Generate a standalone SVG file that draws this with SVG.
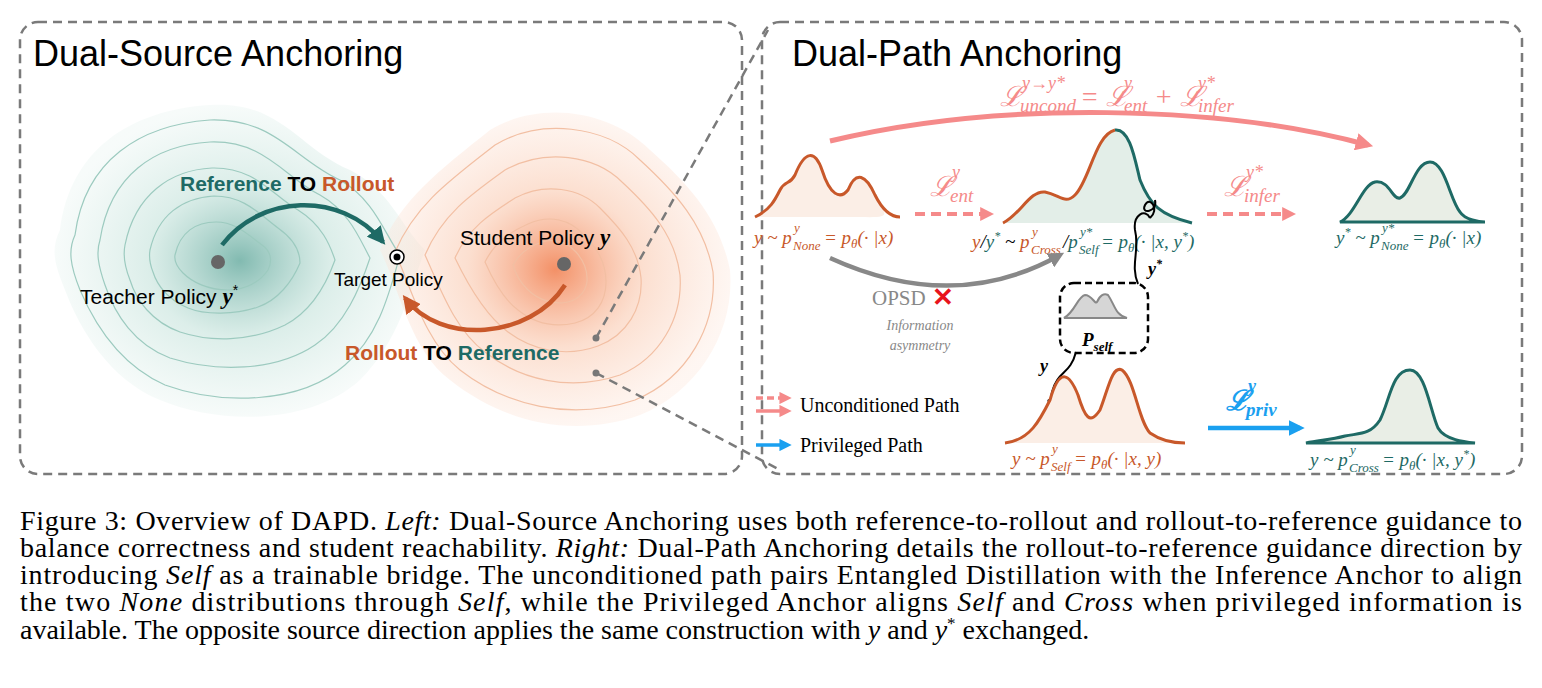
<svg xmlns="http://www.w3.org/2000/svg" width="1542" height="688" viewBox="0 0 1542 688">
<defs>
<style>
.box{fill:none;stroke:#7a7a7a;stroke-width:2.5;stroke-dasharray:9 6}
.t{font-family:"Liberation Sans",Arial,sans-serif}
.s{font-family:"Liberation Serif","Times New Roman",serif}
.m{font-family:"Liberation Serif",serif;font-style:italic}
.cap{font-family:"Liberation Serif","Times New Roman",serif;font-size:28px;fill:#000}
.tc{fill:none;stroke:#9ccabf;stroke-width:1.2}
.oc{fill:none;stroke:#f2bfa3;stroke-width:1.2}
.org{fill:#c8582a}.grn{fill:#1e6a65}.pink{fill:#f58a8a}
</style>
<radialGradient id="tg" cx="0.5" cy="0.5" r="0.5"><stop offset="0" stop-color="#2e8c7c" stop-opacity="0.6"/><stop offset="0.5" stop-color="#9ccfc2" stop-opacity="0.35"/><stop offset="1" stop-color="#e4f2ee" stop-opacity="0.3"/></radialGradient>
<radialGradient id="og" cx="0.5" cy="0.5" r="0.5"><stop offset="0" stop-color="#f07440" stop-opacity="0.8"/><stop offset="0.5" stop-color="#f8b896" stop-opacity="0.45"/><stop offset="1" stop-color="#fde6da" stop-opacity="0.35"/></radialGradient>
<marker id="ahT" viewBox="0 0 10 10" refX="8" refY="5" markerWidth="4" markerHeight="4" orient="auto"><path d="M0,0L10,5L0,10z" fill="#1e6a65"/></marker>
<marker id="ahO" viewBox="0 0 10 10" refX="8" refY="5" markerWidth="4" markerHeight="4" orient="auto"><path d="M0,0L10,5L0,10z" fill="#c8582a"/></marker>
<marker id="ahP" viewBox="0 0 10 10" refX="7" refY="5" markerWidth="3.5" markerHeight="3.5" orient="auto"><path d="M0,0L10,5L0,10z" fill="#f58a8a"/></marker>
<marker id="ahB" viewBox="0 0 10 10" refX="7" refY="5" markerWidth="3.5" markerHeight="3.5" orient="auto"><path d="M0,0L10,5L0,10z" fill="#1aa0f0"/></marker>
<marker id="ahG" viewBox="0 0 10 10" refX="7" refY="5" markerWidth="3.5" markerHeight="3.5" orient="auto"><path d="M0,0L10,5L0,10z" fill="#888"/></marker>
</defs>
<rect width="1542" height="688" fill="#fff"/>

<g id="left-panel">
<rect class="box" x="20" y="22" width="722" height="452" rx="18"/>
<text class="t" x="33" y="66" font-size="36">Dual-Source Anchoring</text>
<path d="M60,230 C70,150 130,110 210,105 C280,100 300,150 350,170 C390,190 400,225 425,250 C410,290 400,340 360,380 C310,425 220,425 160,400 C110,380 80,330 65,290 C55,265 50,250 60,230Z" fill="url(#tg)"/>
<path d="M380,250 C400,200 440,170 490,130 C540,100 610,110 650,150 C690,185 720,220 730,270 C735,330 700,390 640,415 C570,440 500,420 450,380 C410,350 400,290 380,250Z" fill="url(#og)"/>
<g class="tc">
<path d="M75,235 C85,160 140,125 210,120 C275,118 295,160 340,180 C375,200 385,235 400,255 C390,290 380,335 345,365 C300,405 220,405 165,385 C120,365 95,325 80,290 C70,265 68,250 75,235Z"/>
<path d="M100,240 C110,175 155,145 210,142 C265,140 285,178 320,195 C350,212 360,240 370,258 C360,288 345,325 315,345 C275,372 215,372 170,358 C135,345 115,315 105,285 C98,265 96,252 100,240Z"/>
<path d="M125,245 C135,195 170,170 212,168 C255,167 272,195 298,210 C322,225 330,245 335,260 C326,285 310,312 285,325 C250,342 210,342 180,332 C152,322 136,300 130,280 C124,265 123,255 125,245Z"/>
<path d="M150,250 C158,215 182,198 214,196 C245,196 260,215 278,228 C295,240 300,252 300,263 C292,282 278,300 258,307 C235,315 205,315 188,308 C168,300 157,285 153,272 C149,262 149,256 150,250Z"/>
<path d="M175,255 C180,232 196,222 216,222 C236,222 248,235 262,245 C272,252 272,262 268,270 C260,282 245,290 228,290 C208,290 192,282 183,273 C177,267 174,261 175,255Z"/>
</g>
<g class="oc">
<path d="M395,252 C415,205 450,180 495,145 C540,118 605,125 640,160 C675,192 705,225 713,272 C717,325 688,378 635,400 C570,422 505,405 460,370 C425,342 412,290 395,252Z"/>
<path d="M425,255 C442,215 470,195 505,170 C545,148 595,155 622,182 C650,208 675,235 680,275 C683,318 660,358 620,375 C570,392 520,380 485,352 C455,330 440,288 425,255Z"/>
<path d="M455,258 C468,228 490,214 515,198 C545,182 580,188 600,208 C620,228 638,248 641,278 C643,308 627,335 598,346 C565,358 532,350 508,332 C485,315 468,285 455,258Z"/>
<path d="M485,262 C495,242 510,232 528,224 C550,214 570,220 583,234 C597,248 606,262 606,282 C606,302 595,318 575,323 C553,328 533,322 518,310 C502,298 492,278 485,262Z"/>
<path d="M513,265 C520,252 530,246 542,242 C556,238 568,243 576,252 C584,261 588,270 587,282 C585,294 576,302 562,303 C548,303 536,298 527,289 C519,281 515,272 513,265Z"/>
</g>
<circle cx="218" cy="262" r="7" fill="#666"/>
<circle cx="564" cy="264" r="7" fill="#666"/>
<circle cx="397" cy="257" r="7" fill="#fff" stroke="#000" stroke-width="1.5"/>
<circle cx="397" cy="257" r="3.5" fill="#000"/>
<path d="M222,245 C260,195 340,190 383,242" fill="none" stroke="#1e6a65" stroke-width="4.5" marker-end="url(#ahT)"/>
<path d="M565,285 C530,340 440,345 405,298" fill="none" stroke="#c8582a" stroke-width="4.5" marker-end="url(#ahO)"/>
<text class="t" x="180" y="191" font-size="21" font-weight="bold"><tspan class="grn">Reference</tspan> <tspan>TO</tspan> <tspan class="org">Rollout</tspan></text>
<text class="t" x="345" y="360" font-size="21" font-weight="bold"><tspan class="org">Rollout</tspan> <tspan>TO</tspan> <tspan class="grn">Reference</tspan></text>
<text class="t" x="80" y="304" font-size="21">Teacher Policy <tspan class="m" font-weight="bold" font-size="23">y</tspan><tspan font-size="14" dy="-9">*</tspan></text>
<text class="t" x="334" y="286" font-size="19">Target Policy</text>
<text class="t" x="460" y="245" font-size="21">Student Policy <tspan class="m" font-weight="bold" font-size="23">y</tspan></text>
<circle cx="596" cy="338" r="3.5" fill="#777"/>
<circle cx="596" cy="373" r="3.5" fill="#777"/>
</g>

<g id="zoom-lines">
<line class="box" x1="596" y1="338" x2="768" y2="30"/>
<line class="box" x1="596" y1="373" x2="780" y2="470"/>
</g>

<g id="right-panel">
<rect class="box" x="762" y="22" width="760" height="452" rx="18"/>
<text class="t" x="792" y="66" font-size="36">Dual-Path Anchoring</text>

<g class="m pink" font-size="28">
<text x="1000" y="106">ℒ</text>
<text x="1020" y="112" font-size="19">uncond</text>
<text x="1022" y="89" font-size="18">y→y*</text>
<text x="1080" y="106">= ℒ</text>
<text x="1124" y="112" font-size="19">ent</text>
<text x="1124" y="89" font-size="18">y</text>
<text x="1154" y="106">+ ℒ</text>
<text x="1198" y="112" font-size="19">infer</text>
<text x="1198" y="89" font-size="18">y*</text>
</g>
<path d="M830,141 C1000,100 1220,105 1368,145" fill="none" stroke="#f58a8a" stroke-width="5" marker-end="url(#ahP)"/>

<g id="dist-none-y">
<path d="M755,217 C770,210 775,200 780,190 C785,180 790,185 795,175 C805,150 815,150 822,170 C830,195 840,200 848,190 C856,170 866,175 875,195 C885,215 895,218 860,217Z" fill="#fbeee6" stroke="none"/>
<path d="M755,217 C770,210 775,200 780,190 C785,180 790,185 795,175 C805,150 815,150 822,170 C830,195 840,200 848,190 C856,170 866,175 875,195 C885,215 895,217 900,217" fill="none" stroke="#c8582a" stroke-width="3"/>
<g class="m org" font-size="19">
<text x="754" y="244">y ~ p</text>
<text x="793" y="250" font-size="13">None</text>
<text x="794" y="232" font-size="13">y</text>
<text x="824" y="244">= p<tspan font-size="13" dy="4">θ</tspan><tspan dy="-4">(· |x)</tspan></text>
</g>
</g>
<path d="M915,214 L990,214" stroke="#f58a8a" stroke-width="4" stroke-dasharray="10 6" marker-end="url(#ahP)"/>
<g class="m pink" font-size="28">
<text x="930" y="196">ℒ</text>
<text x="950" y="202" font-size="19">ent</text>
<text x="952" y="178" font-size="18">y</text>
</g>

<g id="dist-mid">
<path d="M1003,223 C1020,215 1030,190 1045,192 C1060,195 1065,205 1075,195 C1090,180 1095,135 1115,130 C1130,128 1135,160 1140,180 C1150,205 1160,215 1192,223Z" fill="#e3eee8"/>
<path d="M1003,223 C1020,215 1030,190 1045,192 C1060,195 1065,205 1075,195 C1090,180 1095,135 1115,130" fill="none" stroke="#c8582a" stroke-width="3"/>
<path d="M1115,130 C1130,128 1135,160 1140,180 C1150,205 1160,215 1192,223" fill="none" stroke="#1e6a65" stroke-width="3"/>
<g class="m" font-size="19">
<text x="972" y="248"><tspan class="org">y</tspan>/<tspan class="grn">y</tspan><tspan class="grn" font-size="12" dy="-8">*</tspan><tspan dy="8"> ~ </tspan><tspan class="org">p</tspan></text>
<text class="org" x="1031" y="254" font-size="13">Cross</text>
<text class="org" x="1032" y="236" font-size="13">y</text>
<text x="1063" y="248">/<tspan class="grn">p</tspan></text>
<text class="grn" x="1079" y="254" font-size="13">Self</text>
<text class="grn" x="1080" y="236" font-size="13">y*</text>
<text class="grn" x="1101" y="248">= p<tspan font-size="13" dy="4">θ</tspan><tspan dy="-4">(· |x, y</tspan><tspan font-size="12" dy="-8">*</tspan><tspan dy="8">)</tspan></text>
</g>
</g>
<path d="M1207,214 L1292,214" stroke="#f58a8a" stroke-width="4" stroke-dasharray="10 6" marker-end="url(#ahP)"/>
<g class="m pink" font-size="28">
<text x="1224" y="196">ℒ</text>
<text x="1244" y="202" font-size="19">infer</text>
<text x="1246" y="178" font-size="18">y*</text>
</g>

<g id="dist-none-ystar">
<path d="M1340,222 C1355,215 1362,185 1375,182 C1390,180 1392,200 1400,198 C1410,195 1415,162 1430,162 C1445,162 1450,200 1460,212 C1465,220 1480,222 1485,222Z" fill="#e9eee6" stroke="#1e6a65" stroke-width="3"/>
<g class="m grn" font-size="19">
<text x="1336" y="244">y<tspan font-size="12" dy="-8">*</tspan><tspan dy="8"> ~ p</tspan></text>
<text x="1381" y="250" font-size="13">None</text>
<text x="1382" y="232" font-size="13">y*</text>
<text x="1412" y="244">= p<tspan font-size="13" dy="4">θ</tspan><tspan dy="-4">(· |x)</tspan></text>
</g>
</g>

<path d="M830,258 C900,290 980,300 1060,255" fill="none" stroke="#888" stroke-width="4.5" marker-end="url(#ahG)"/>
<text class="s" x="872" y="305" font-size="21" fill="#888">OPSD</text>
<text class="t" x="932" y="306" font-size="26" font-weight="bold" fill="#e8141c">✕</text>
<text class="m" x="920" y="330" font-size="14" fill="#888" text-anchor="middle">Information</text>
<text class="m" x="920" y="350" font-size="14" fill="#888" text-anchor="middle">asymmetry</text>

<g id="p-self">
<rect x="1060" y="283" width="88" height="70" rx="14" fill="#fff" stroke="#000" stroke-width="2.5" stroke-dasharray="7 4"/>
<path d="M1064,318 C1075,312 1078,296 1085,295 C1092,295 1095,305 1097,302 C1100,295 1104,293 1108,295 C1115,305 1115,315 1127,318Z" fill="#d6d6d6" stroke="#888" stroke-width="2"/>
<text class="m" x="1082" y="346" font-size="19" font-weight="bold">P<tspan font-size="13" dy="5">self</tspan></text>
<path d="M1138,284 C1130,265 1140,250 1135,230 C1133,215 1145,208 1150,218" fill="none" stroke="#000" stroke-width="2"/>
<path d="M1150,218 C1160,210 1150,195 1145,205 C1140,215 1158,212 1155,200" fill="none" stroke="#000" stroke-width="2"/>
<text class="m" x="1148" y="275" font-size="18" font-weight="bold">y<tspan font-size="12" dy="-7">*</tspan></text>
<path d="M1076,352 C1070,375 1058,370 1052,392 C1050,400 1055,410 1052,405 C1045,400 1050,395 1052,412" fill="none" stroke="#000" stroke-width="2"/>
<text class="m" x="1040" y="372" font-size="18" font-weight="bold">y</text>
</g>

<g id="dist-self">
<path d="M1005,443 C1030,440 1040,420 1050,400 C1060,365 1070,375 1078,395 C1085,418 1090,425 1100,410 C1108,390 1112,365 1122,370 C1135,380 1138,420 1150,433 C1160,440 1170,443 1185,443Z" fill="#fbeee6"/>
<path d="M1005,443 C1030,440 1040,420 1050,400 C1060,365 1070,375 1078,395 C1085,418 1090,425 1100,410 C1108,390 1112,365 1122,370 C1135,380 1138,420 1150,433 C1160,440 1170,443 1185,443" fill="none" stroke="#c8582a" stroke-width="3"/>
<g class="m org" font-size="19">
<text x="1012" y="465">y ~ p</text>
<text x="1051" y="471" font-size="13">Self</text>
<text x="1052" y="453" font-size="13">y</text>
<text x="1074" y="465">= p<tspan font-size="13" dy="4">θ</tspan><tspan dy="-4">(· |x, y)</tspan></text>
</g>
</g>
<path d="M1208,428 L1300,428" stroke="#1aa0f0" stroke-width="4.5" marker-end="url(#ahB)"/>
<g class="m" font-size="28" fill="#1aa0f0" font-weight="bold">
<text x="1226" y="410">ℒ</text>
<text x="1246" y="416" font-size="19">priv</text>
<text x="1248" y="392" font-size="18">y</text>
</g>

<g id="dist-cross">
<path d="M1306,443 C1320,440 1330,440 1345,436 C1360,433 1370,435 1380,420 C1390,400 1392,370 1410,370 C1425,370 1430,410 1438,428 C1445,440 1465,442 1475,443Z" fill="#e9eee6" stroke="#1e6a65" stroke-width="3"/>
<g class="m grn" font-size="19">
<text x="1310" y="466">y ~ p</text>
<text x="1349" y="472" font-size="13">Cross</text>
<text x="1350" y="454" font-size="13">y</text>
<text x="1382" y="466">= p<tspan font-size="13" dy="4">θ</tspan><tspan dy="-4">(· |x, y</tspan><tspan font-size="12" dy="-8">*</tspan><tspan dy="8">)</tspan></text>
</g>
</g>

<g id="legend">
<path d="M756,398 L788,398" stroke="#f58a8a" stroke-width="3.5" stroke-dasharray="7 4" marker-end="url(#ahP)"/>
<path d="M756,411 L788,411" stroke="#f58a8a" stroke-width="3.5" marker-end="url(#ahP)"/>
<text class="s" x="800" y="412" font-size="20">Unconditioned Path</text>
<path d="M756,445 L788,445" stroke="#1aa0f0" stroke-width="3.5" marker-end="url(#ahB)"/>
<text class="s" x="800" y="452" font-size="20">Privileged Path</text>
</g>
</g>

<g id="caption" class="cap">
<text x="20" y="530" textLength="1502" lengthAdjust="spacing">Figure 3: Overview of DAPD. <tspan font-style="italic">Left:</tspan> Dual-Source Anchoring uses both reference-to-rollout and rollout-to-reference guidance to</text>
<text x="20" y="557" textLength="1502" lengthAdjust="spacing">balance correctness and student reachability. <tspan font-style="italic">Right:</tspan> Dual-Path Anchoring details the rollout-to-reference guidance direction by</text>
<text x="20" y="584" textLength="1502" lengthAdjust="spacing">introducing <tspan font-style="italic">Self</tspan> as a trainable bridge. The unconditioned path pairs Entangled Distillation with the Inference Anchor to align</text>
<text x="20" y="611" textLength="1502" lengthAdjust="spacing">the two <tspan font-style="italic">None</tspan> distributions through <tspan font-style="italic">Self</tspan>, while the Privileged Anchor aligns <tspan font-style="italic">Self</tspan> and <tspan font-style="italic">Cross</tspan> when privileged information is</text>
<text x="20" y="639">available. The opposite source direction applies the same construction with <tspan font-style="italic">y</tspan> and <tspan font-style="italic">y</tspan><tspan font-size="17" dy="-10">*</tspan><tspan dy="10"> exchanged.</tspan></text>
</g>
</svg>
